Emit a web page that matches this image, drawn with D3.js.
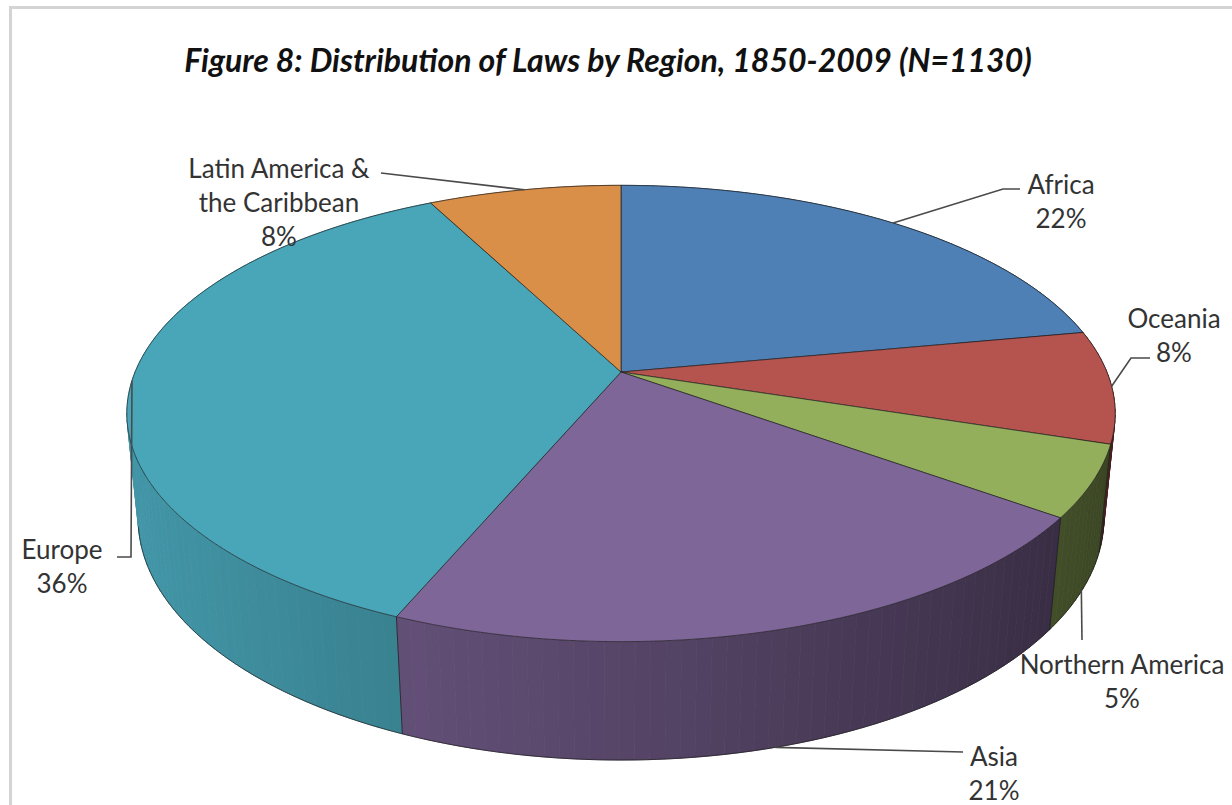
<!DOCTYPE html>
<html>
<head>
<meta charset="utf-8">
<script src="https://cdn.jsdelivr.net/npm/d3@7"></script>
<style>
  html, body { margin: 0; padding: 0; background: #ffffff; }
  svg { display: block; }
</style>
</head>
<body>
<svg id="chart" width="1232" height="805"></svg>
<script>
// ---------------- data ----------------
const title = "Figure 8: Distribution of Laws by Region, 1850-2009 (N=1130)";
const categories = ["Africa", "Oceania", "Northern America", "Asia", "Europe", "Latin America & the Caribbean"];
const counts = [249, 90, 57, 240, 409, 85];
const colors = ["#4f80b5", "#b5534f", "#94af5b", "#7f6699", "#49a6b9", "#d98f47"];
const labelLines = [["Africa"], ["Oceania"], ["Northern America"], ["Asia"], ["Europe"], ["Latin America &", "the Caribbean"]];

// ---------------- layout (positions only) ----------------
const labelLayout = [
  { cx: 1061, y: 194, anchor: "top",    leader: [[1003, 189], [1020, 189]] },
  { cx: 1174, y: 328, anchor: "top",    leader: [[1131, 358], [1150, 358]] },
  { cx: 1122, y: 674, anchor: "bottom", leader: [[1082, 640]] },
  { cx: 994,  y: 766, anchor: "bottom", leader: [[963, 752]] },
  { cx: 62,   y: 559, anchor: "top",    leader: [[131, 557], [117, 557]] },
  { cx: 279,  y: 178, anchor: "top",    leader: [[381, 173]] }
];

const N = d3.sum(counts);
const data = categories.map((c, i) => ({ name: c, value: counts[i], color: colors[i], lines: labelLines[i], layout: labelLayout[i] }));

// ---------------- 3D projection ----------------
const cx = 621, cy = 372;
const S = 2381, D = 4.9, alpha = 27 * Math.PI / 180, H = 0.244;
const ca = Math.cos(alpha), sa = Math.sin(alpha);
function proj(theta, y) {
  const x = Math.sin(theta), z = -Math.cos(theta);
  const depth = D - z * ca - y * sa;
  return [cx + S * x / depth, cy - S * (y * ca - z * sa) / depth];
}
function centerProj(y) {
  const depth = D - y * sa;
  return [cx, cy - S * (y * ca) / depth];
}

const svg = d3.select("#chart");

// frame
svg.append("rect").attr("x", 10.5).attr("y", 7.5).attr("width", 1240).attr("height", 820)
  .attr("fill", "none").attr("stroke", "#d4d4d4").attr("stroke-width", 3);

// title
svg.append("text").attr("x", 608).attr("y", 72).attr("text-anchor", "middle")
  .attr("font-family", "Lato, 'Open Sans', sans-serif").attr("font-weight", "bold").attr("font-style", "italic")
  .attr("font-size", 32).attr("fill", "#111").text(title);

const pie = d3.pie().value(d => d.value).sort(null).startAngle(0).endAngle(2 * Math.PI);
const arcs = pie(data);

const line = d3.line();
const step = Math.PI / 180 * 1.5;

function shade(hex, theta) {
  const deg = theta * 180 / Math.PI;
  const f = 0.64 + 0.27 * Math.cos((deg - 262) * Math.PI / 180);
  const c = d3.rgb(hex);
  return d3.rgb(c.r * f, c.g * f, c.b * f).formatHex();
}

// ---------------- side walls ----------------
const quads = [];
arcs.forEach(a => {
  const n = Math.max(1, Math.ceil((a.endAngle - a.startAngle) / step));
  for (let k = 0; k < n; k++) {
    const t0 = a.startAngle + (a.endAngle - a.startAngle) * k / n;
    const t1 = a.startAngle + (a.endAngle - a.startAngle) * (k + 1) / n;
    const tm = (t0 + t1) / 2;
    quads.push({ t0, t1, z: -Math.cos(tm), color: shade(a.data.color, tm) });
  }
});
quads.sort((p, q) => p.z - q.z);
const wallG = svg.append("g");
wallG.selectAll("path").data(quads).join("path")
  .attr("d", q => line([proj(q.t0, 0), proj(q.t1, 0), proj(q.t1, -H), proj(q.t0, -H)]) + "Z")
  .attr("fill", q => q.color).attr("stroke", q => q.color).attr("stroke-width", 0.8);

// bottom edge & vertical boundaries on visible front
const vis0 = 100 * Math.PI / 180, vis1 = 258 * Math.PI / 180;
const bottomPts = d3.range(vis0, vis1, 0.005).map(t => proj(t, -H));
svg.append("path").attr("d", line(bottomPts)).attr("fill", "none").attr("stroke", "#1c1c1c").attr("stroke-width", 0.9).attr("stroke-opacity", 0.8);
arcs.forEach(a => {
  const t = a.startAngle;
  if (t > vis0 && t < vis1) {
    svg.append("path").attr("d", line([proj(t, 0), proj(t, -H)]))
      .attr("stroke", "#1c1c1c").attr("stroke-width", 0.9).attr("stroke-opacity", 0.8).attr("fill", "none");
  }
});

// ---------------- top faces ----------------
const topG = svg.append("g");
topG.selectAll("path").data(arcs).join("path")
  .attr("d", a => {
    const pts = [centerProj(0)];
    const n = Math.max(2, Math.ceil((a.endAngle - a.startAngle) / 0.004));
    for (let k = 0; k <= n; k++) pts.push(proj(a.startAngle + (a.endAngle - a.startAngle) * k / n, 0));
    return line(pts) + "Z";
  })
  .attr("fill", a => a.data.color)
  .attr("stroke", "#1c1c1c").attr("stroke-width", 0.9).attr("stroke-opacity", 0.75).attr("stroke-linejoin", "round");

// ---------------- labels & leaders ----------------
const labG = svg.append("g").attr("font-family", "Lato, 'Open Sans', sans-serif").attr("font-size", 26).attr("fill", "#333");
arcs.forEach(a => {
  const L = a.data.layout;
  const mid = (a.startAngle + a.endAngle) / 2;
  const anchorPt = proj(mid, L.anchor === "top" ? 0 : -H);
  svg.append("path").attr("d", line([anchorPt, ...L.leader]))
    .attr("fill", "none").attr("stroke", "#4a4a4a").attr("stroke-width", 1.6);
  const lines = [...a.data.lines, Math.round(a.value / N * 100) + "%"];
  lines.forEach((s, i) => {
    labG.append("text").attr("x", L.cx).attr("y", L.y + i * 34).attr("text-anchor", "middle").text(s);
  });
});
</script>
</body>
</html>
